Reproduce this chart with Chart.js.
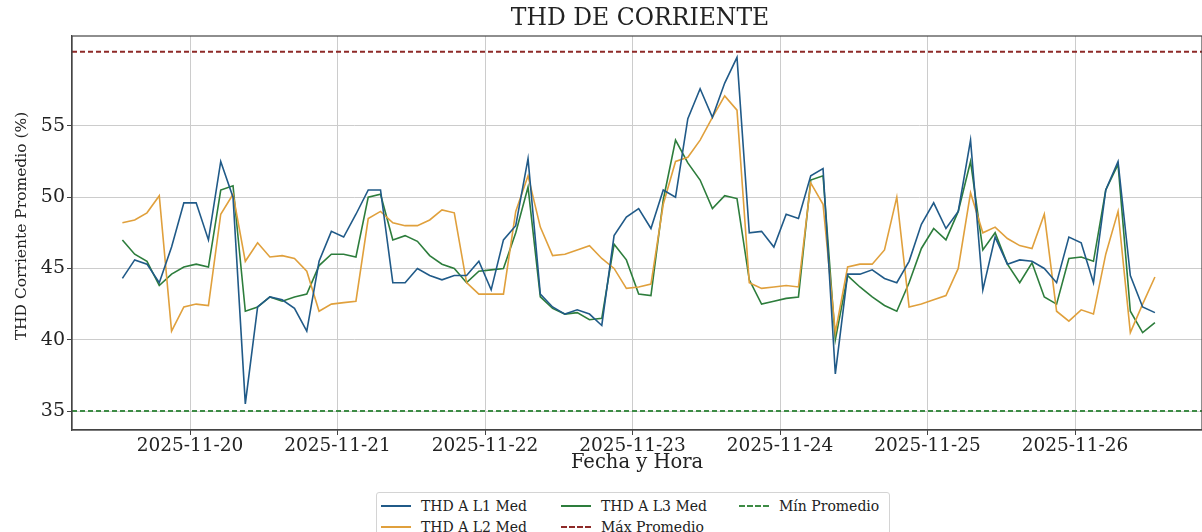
<!DOCTYPE html>
<html>
<head>
<meta charset="utf-8">
<script src="https://cdn.jsdelivr.net/npm/chart.js@4.4.0/dist/chart.umd.min.js"></script>
<style>
  body { margin: 0; background: #fff; }
  #wrap { position: relative; width: 1202px; height: 532px; }
  #legend {
    position: absolute; left: 376px; top: 492px; width: 512px; height: 46px;
    border: 1px solid #d4d4d4; border-radius: 3px; background: #fff;
    font-family: "DejaVu Serif", serif; font-size: 14px; color: #222;
  }
  .item { position: absolute; display: flex; align-items: center; height: 18px; white-space: nowrap; }
  .item i { display: inline-block; width: 30px; height: 0; border-top: 2px solid; margin-right: 10px; }
  .item i.dash { border-top-style: dashed; }
</style>
</head>
<body>
<div id="wrap">
  <canvas id="chart" width="1202" height="532"></canvas>
  <div id="legend"></div>
</div>
<script>
// hours relative to 2025-11-20 00:00, one reading every 2 h
const START_H = -11;
const STEP_H = 2;
const DAY_LABELS = ["2025-11-20", "2025-11-21", "2025-11-22", "2025-11-23", "2025-11-24", "2025-11-25", "2025-11-26"];
const Y_TICKS = [35, 40, 45, 50, 55];

const L1 = [44.3, 45.6, 45.3, 44.0, 46.5, 49.6, 49.6, 47.0, 52.5, 50.0,
  35.5, 42.3, 43.0, 42.8, 42.2, 40.6, 45.5, 47.6, 47.2, 48.8,
  50.5, 50.5, 44.0, 44.0, 45.0, 44.5, 44.2, 44.5, 44.5, 45.5,
  43.5, 47.0, 48.0, 52.7, 43.2, 42.3, 41.8, 42.1, 41.8, 41.0,
  47.3, 48.6, 49.2, 47.8, 50.5, 50.0, 55.5, 57.6, 55.6, 58.0,
  59.8, 47.5, 47.6, 46.5, 48.8, 48.5, 51.5, 52.0, 37.6, 44.6,
  44.6, 44.9, 44.3, 44.0, 45.5, 48.1, 49.6, 47.8, 49.0, 54.0,
  43.5, 47.2, 45.3, 45.6, 45.5, 45.0, 44.0, 47.2, 46.8, 44.0,
  50.5, 52.5, 44.5, 42.3, 41.9];
const L2 = [48.2, 48.4, 48.9, 50.1, 40.6, 42.3, 42.5, 42.4, 48.8, 50.2,
  45.5, 46.8, 45.8, 45.9, 45.7, 44.8, 42.0, 42.5, 42.6, 42.7,
  48.5, 49.0, 48.2, 48.0, 48.0, 48.4, 49.1, 48.9, 44.0, 43.2,
  43.2, 43.2, 49.0, 51.5, 47.9, 45.9, 46.0, 46.3, 46.6, 45.7,
  45.0, 43.6, 43.7, 43.9, 49.5, 52.5, 52.8, 54.0, 55.6, 57.1,
  56.1, 44.0, 43.6, 43.7, 43.8, 43.7, 51.0, 49.5, 40.5, 45.1,
  45.3, 45.3, 46.3, 50.0, 42.3, 42.5, 42.8, 43.1, 45.0, 50.3,
  47.5, 47.9, 47.1, 46.6, 46.4, 48.8, 42.0, 41.3, 42.1, 41.8,
  46.0, 49.0, 40.5, 42.5, 44.4];
const L3 = [47.0, 46.0, 45.5, 43.8, 44.6, 45.1, 45.3, 45.1, 50.5, 50.8,
  42.0, 42.3, 43.0, 42.7, 43.0, 43.2, 45.2, 46.0, 46.0, 45.8,
  50.0, 50.2, 47.0, 47.3, 46.9, 45.9, 45.3, 45.0, 44.0, 44.8,
  44.9, 45.0, 47.5, 50.7, 43.0, 42.2, 41.8, 41.9, 41.4, 41.5,
  46.7, 45.6, 43.2, 43.1, 49.8, 54.0, 52.4, 51.2, 49.2, 50.1,
  49.9, 44.2, 42.5, 42.7, 42.9, 43.0, 51.2, 51.5, 40.0, 44.5,
  43.7, 43.0, 42.4, 42.0, 44.0, 46.4, 47.8, 47.0, 49.0, 52.5,
  46.3, 47.5, 45.3, 44.0, 45.4, 43.0, 42.5, 45.7, 45.8, 45.5,
  50.5, 52.3, 42.0, 40.5, 41.2];
const MAX_PROM = 60.2;
const MIN_PROM = 35.0;

const X_MIN = -19.2, X_MAX = 164.66;
const FONT = "'DejaVu Serif', serif";
const C_L1 = "#205a88", C_L2 = "#e0a03c", C_L3 = "#2d7d3c";
const C_MAX = "#8e2a28", C_MIN = "#3d8b45";

const HOURS = L1.map((_, i) => START_H + STEP_H * i);
const pts = (arr) => arr.map((v, i) => ({ x: HOURS[i], y: v }));
const flat = (v) => [{ x: X_MIN, y: v }, { x: X_MAX, y: v }];

// frame round the plot, plus title and y label placed like the original
const frame = {
  id: "frame",
  afterDraw(chart) {
    const { ctx, chartArea: a } = chart;
    ctx.save();
    ctx.strokeStyle = "#444";
    ctx.lineWidth = 1.2;
    ctx.strokeRect(a.left, a.top, a.right - a.left, a.bottom - a.top);
    ctx.fillStyle = "#222";
    ctx.textAlign = "center";
    ctx.textBaseline = "middle";
    ctx.font = "23.5px " + FONT;
    ctx.fillText("THD DE CORRIENTE", 640, 19);
    ctx.translate(22, 226);
    ctx.rotate(-Math.PI / 2);
    ctx.font = "15.5px " + FONT;
    ctx.fillText("THD Corriente Promedio (%)", 0, 0);
    ctx.restore();
  }
};

const lineDs = (label, data, color, dash, width) => ({
  label, data, borderColor: color, backgroundColor: color,
  borderWidth: width || 1.6, pointRadius: 0, tension: 0, borderDash: dash || []
});

new Chart(document.getElementById("chart"), {
  type: "line",
  data: {
    datasets: [
      lineDs("THD A L1 Med", pts(L1), C_L1),
      lineDs("THD A L2 Med", pts(L2), C_L2),
      lineDs("THD A L3 Med", pts(L3), C_L3),
      lineDs("Máx Promedio", flat(MAX_PROM), C_MAX, [5, 3], 2),
      lineDs("Mín Promedio", flat(MIN_PROM), C_MIN, [5, 3], 2)
    ]
  },
  options: {
    responsive: false,
    animation: false,
    layout: { padding: { left: 0, right: 0, top: 36, bottom: 57 } },
    plugins: {
      legend: { display: false },
      tooltip: { enabled: false }
    },
    scales: {
      x: {
        type: "linear", min: X_MIN, max: X_MAX,
        afterFit: (s) => { s.height = 45; },
        afterBuildTicks: (s) => { s.ticks = DAY_LABELS.map((_, i) => ({ value: i * 24 })); },
        ticks: {
          callback: (v) => DAY_LABELS[Math.round(v / 24)],
          font: { family: FONT, size: 18.5 }, color: "#222", padding: 0, maxRotation: 0
        },
        grid: { color: "#cccccc", tickLength: 5, tickColor: "#444" },
        border: { color: "#444", width: 1.2 },
        title: {
          display: true, text: "Fecha y Hora", color: "#222",
          font: { family: FONT, size: 19.5 }, padding: { top: 0, bottom: 0 }
        }
      },
      y: {
        min: 33.67, max: 61.3,
        afterFit: (s) => { s.width = 72; },
        afterBuildTicks: (s) => { s.ticks = Y_TICKS.map((v) => ({ value: v })); },
        ticks: { font: { family: FONT, size: 19 }, color: "#222", padding: 2 },
        grid: { color: "#cccccc", tickLength: 5, tickColor: "#444" },
        border: { color: "#444", width: 1.2 }
      }
    }
  },
  plugins: [frame]
});

// legend laid out column by column, three columns
const LEGEND = [
  { label: "THD A L1 Med", color: C_L1, left: 4, top: 4 },
  { label: "THD A L2 Med", color: C_L2, left: 4, top: 25 },
  { label: "THD A L3 Med", color: C_L3, left: 184, top: 4 },
  { label: "Máx Promedio", color: C_MAX, left: 184, top: 25, dash: true },
  { label: "Mín Promedio", color: C_MIN, left: 362, top: 4, dash: true }
];
const lg = document.getElementById("legend");
LEGEND.forEach((it) => {
  const d = document.createElement("div");
  d.className = "item";
  d.style.left = it.left + "px";
  d.style.top = it.top + "px";
  const i = document.createElement("i");
  if (it.dash) i.className = "dash";
  i.style.borderTopColor = it.color;
  d.appendChild(i);
  d.appendChild(document.createTextNode(it.label));
  lg.appendChild(d);
});
</script>
</body>
</html>
